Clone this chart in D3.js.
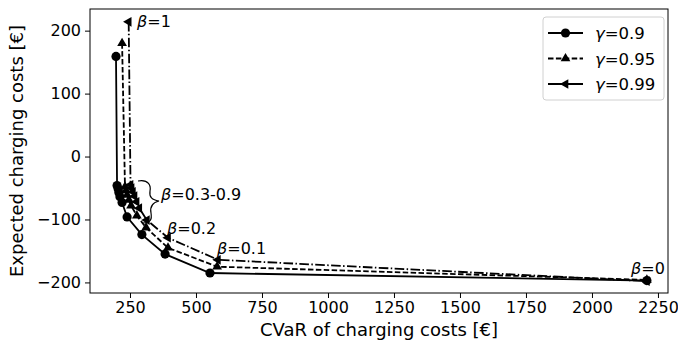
<!DOCTYPE html>
<html>
<head>
<meta charset="utf-8">
<script src="https://cdn.jsdelivr.net/npm/d3@7"></script>
<style>
  body { margin: 0; background: #fff; }
  text { font-family: "DejaVu Sans", sans-serif; }
</style>
</head>
<body>
<div id="chart"></div>
<script>
// data (CVaR, expected cost), beta = 1 ... 0
var betas = [1, 0.9, 0.8, 0.7, 0.6, 0.5, 0.4, 0.3, 0.2, 0.1, 0];
var cvar09 = [197, 201, 205, 208, 212, 220, 239, 295, 383, 553, 2208];
var exp09  = [159, -46, -51, -57, -64, -73, -96, -124, -155, -185, -197];
var cvar095 = [220, 231, 235, 239, 246, 254, 276, 311, 394, 580, 2208];
var exp095  = [180, -48, -54, -61, -69, -78, -94, -113, -145, -175, -196];
var cvar099 = [245, 252, 256, 261, 267, 275, 285, 314, 394, 583, 2208];
var exp099  = [214, -45, -50, -56, -63, -72, -82, -101, -129, -164, -198];
var xTicks = [250, 500, 750, 1000, 1250, 1500, 1750, 2000, 2250];
var yTicks = [-200, -100, 0, 100, 200];
var seriesNames = ["γ=0.9", "γ=0.95", "γ=0.99"];

var W = 678, H = 347;
var margin = {top: 9, right: 10, bottom: 54, left: 90};
var width = W - margin.left - margin.right,
    height = H - margin.top - margin.bottom;

var svg = d3.select("#chart").append("svg")
  .attr("width", W).attr("height", H);
var g = svg.append("g")
  .attr("transform", "translate(" + margin.left + "," + margin.top + ")");

var x = d3.scaleLinear().domain([98.5, 2288]).range([0, width]);
var y = d3.scaleLinear().domain([-216.8, 234.4]).range([height, 0]);

var series = [
  {name: seriesNames[0], xs: cvar09, ys: exp09, dash: null, marker: "circle"},
  {name: seriesNames[1], xs: cvar095, ys: exp095, dash: "5.5,2.4", marker: "tri-up"},
  {name: seriesNames[2], xs: cvar099, ys: exp099, dash: "9.6,2.4,1.5,2.4", marker: "tri-left"}
];

function markerPath(type) {
  var s = 5.6;
  if (type === "tri-up") return "M0," + (-s) + "L" + (s * 0.87) + "," + (s * 0.5) + "L" + (-s * 0.87) + "," + (s * 0.5) + "Z";
  return "M" + (-s) + ",0L" + (s * 0.5) + "," + (-s * 0.87) + "L" + (s * 0.5) + "," + (s * 0.87) + "Z";
}

function drawMarker(sel, type, cx, cy) {
  if (type === "circle") {
    sel.append("circle").attr("cx", cx).attr("cy", cy).attr("r", 4.6).attr("fill", "#000");
  } else {
    sel.append("path").attr("d", markerPath(type))
      .attr("transform", "translate(" + cx + "," + cy + ")").attr("fill", "#000");
  }
}

// axes
var fmt = d3.format("d");
var xAxis = g.append("g")
  .attr("transform", "translate(0," + height + ")")
  .call(d3.axisBottom(x).tickValues(xTicks).tickFormat(fmt).tickSize(5).tickPadding(4));
var yAxis = g.append("g")
  .call(d3.axisLeft(y).tickValues(yTicks).tickFormat(fmt).tickSize(5).tickPadding(4));
[xAxis, yAxis].forEach(function(a) {
  a.select(".domain").remove();
  a.selectAll("text").attr("font-size", "16px").attr("fill", "#000")
    .attr("font-family", "DejaVu Sans");
  a.selectAll("line").attr("stroke", "#000").attr("stroke-width", 1);
});

// lines and markers
var line = d3.line().x(function(d) { return x(d[0]); }).y(function(d) { return y(d[1]); });
series.slice().reverse().forEach(function(s) {
  var pts = s.xs.map(function(v, i) { return [v, s.ys[i]]; });
  g.append("path").datum(pts)
    .attr("d", line)
    .attr("fill", "none")
    .attr("stroke", "#000")
    .attr("stroke-width", 1.8)
    .attr("stroke-dasharray", s.dash);
  var mg = g.append("g");
  pts.forEach(function(p) { drawMarker(mg, s.marker, x(p[0]), y(p[1])); });
});

// frame
g.append("rect").attr("width", width).attr("height", height)
  .attr("fill", "none").attr("stroke", "#000").attr("stroke-width", 1);

// annotations
function ann(txt, px, py) {
  var t = svg.append("text").attr("x", px).attr("y", py).attr("font-size", "16px").attr("fill", "#000");
  t.append("tspan").attr("font-style", "italic").text(txt.charAt(0));
  t.append("tspan").text(txt.slice(1));
}
ann("β=1", 137, 27);
ann("β=0.3-0.9", 161, 200);
ann("β=0.2", 167, 234);
ann("β=0.1", 217, 254);
ann("β=0", 631, 274);

// curly brace
svg.append("path")
  .attr("d", "M138,181 C149,179 151,186 150,191 C149,197 152,200 159,201 C151,203 150,208 151,213 C152,219 151,223 143,223")
  .attr("fill", "none").attr("stroke", "#000").attr("stroke-width", 1.2);

// axis titles
svg.append("text").attr("x", margin.left + width / 2).attr("y", 336)
  .attr("text-anchor", "middle").attr("font-size", "18px").text("CVaR of charging costs [€]");
svg.append("text")
  .attr("transform", "translate(23," + (margin.top + height / 2) + ") rotate(-90)")
  .attr("text-anchor", "middle").attr("font-size", "18px").text("Expected charging costs [€]");

// legend
var lg = svg.append("g").attr("transform", "translate(543,17)");
lg.append("rect").attr("width", 121).attr("height", 83).attr("rx", 3)
  .attr("fill", "#fff").attr("fill-opacity", 0.8).attr("stroke", "#d0d0d0");
series.forEach(function(s, i) {
  var cy = 16 + i * 25.5;
  lg.append("line").attr("x1", 5).attr("x2", 40).attr("y1", cy).attr("y2", cy)
    .attr("stroke", "#000").attr("stroke-width", 1.8)
    .attr("stroke-dasharray", i === 1 ? s.dash : null);
  drawMarker(lg, s.marker, 22.5, cy);
  var t = lg.append("text").attr("x", 52).attr("y", cy + 6).attr("font-size", "16.5px");
  t.append("tspan").attr("font-style", "italic").text(s.name.charAt(0));
  t.append("tspan").text(s.name.slice(1));
});
</script>
</body>
</html>
